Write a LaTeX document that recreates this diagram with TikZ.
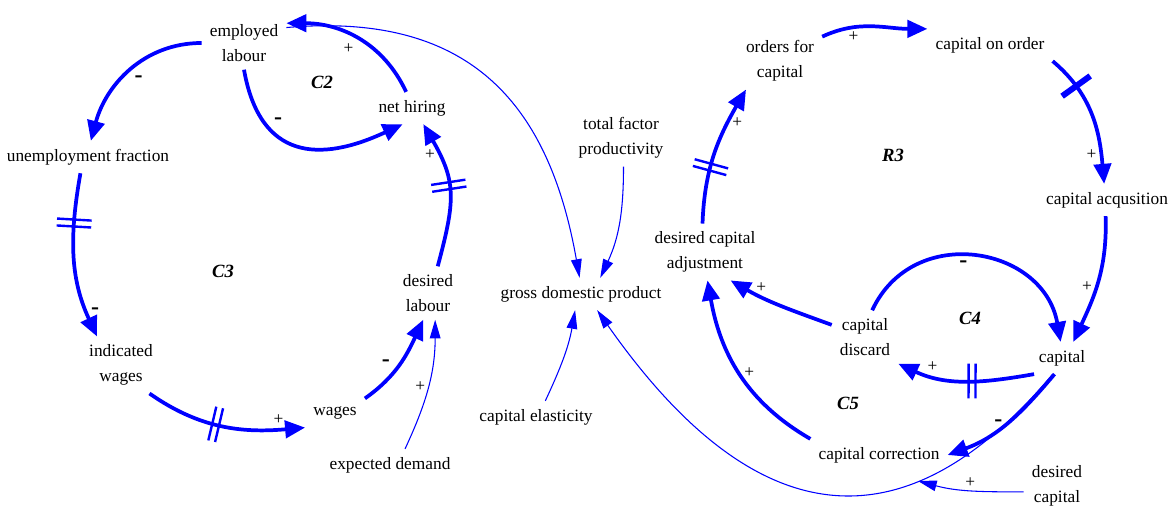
\documentclass[tikz,border=0pt]{standalone}
\usepackage{fontspec}
\setmainfont{Liberation Serif}
\usepackage{tikz}
\usetikzlibrary{arrows.meta, decorations.markings}
\definecolor{cldblue}{RGB}{0,0,255}

\begin{document}
\begin{tikzpicture}[
  x=0.75pt, y=-0.75pt,
  var/.style={inner sep=6pt, align=center, font=\fontsize{13}{18.5}\selectfont},
  loopname/.style={font=\fontsize{14}{16}\selectfont\bfseries\itshape},
  link/.style={cldblue, line width=2.8pt, -{Triangle[length=15pt,width=13pt]}},
  info/.style={cldblue, line width=0.8pt, -{Triangle[length=14pt,width=8pt]}},
  polplus/.style={font=\fontsize{13}{13}\selectfont, inner sep=2pt, text=black},
  polminus/.style={font=\fontsize{18}{18}\selectfont\bfseries, inner sep=2pt, text=black},
  dmark/.style={postaction={decorate, decoration={markings, mark=at position #1 with
    {\draw[cldblue, line width=1.8pt, -] (-2.6pt,-13pt) -- (-2.6pt,13pt) (2.6pt,-13pt) -- (2.6pt,13pt);}}}},
  smark/.style={postaction={decorate, decoration={markings, mark=at position #1 with
    {\draw[cldblue, line width=4.5pt, -] (0pt,-13pt) -- (0pt,13pt);}}}}
]
\useasboundingbox (0,0) rectangle (1173,510);

\node[var] (emp) at (244,43) {employed\\labour};
\node[var] (unemp) at (88,157) {unemployment fraction};
\node[var] (hire) at (412,108) {net hiring};
\node[var] (dlab) at (428,293) {desired\\labour};
\node[var] (indw) at (121,365) {indicated\\wages};
\node[var] (wage) at (335,413) {wages};
\node[var] (expd) at (390,465) {expected demand};
\node[var] (tfp) at (621,138) {total factor\\productivity};
\node[var] (gdp) at (581,294) {gross domestic product};
\node[var] (capel) at (536,417) {capital elasticity};
\node[var] (ofc) at (780,61) {orders for\\capital};
\node[var] (coo) at (990,45) {capital on order};
\node[var] (cacq) at (1107,200) {capital acqusition};
\node[var] (dca) at (705,252) {desired capital\\adjustment};
\node[var] (cdisc) at (865,337) {capital\\discard};
\node[var] (cap) at (1062,358) {capital};
\node[var] (ccorr) at (879,455) {capital correction};
\node[var] (dcap) at (1057,486) {desired\\capital};
\coordinate (ccin) at (918,481);

\node[loopname] (c2) at (322,82) {C2};
\node[loopname] (c3) at (223,271) {C3};
\node[loopname] (r3) at (893,155) {R3};
\node[loopname] (c4) at (970,318) {C4};
\node[loopname] (c5) at (848,403) {C5};

\draw[link] (emp.west) to[out=180,in=75] node[polminus, pos=0.5, below right] {-} (unemp.80);
\draw[link] (emp.south) to[out=-80,in=205,looseness=1.4] node[polminus, pos=0.3, above right] {-} (hire.240);
\draw[link] (hire.110) to[out=115,in=0] node[polplus, pos=0.5, below left] {+} (emp.25);
\draw[link, dmark=0.55] (dlab.70) to[out=75,in=-60,looseness=1.2] node[polplus, pos=0.8, left] {+} (hire.-55);
\draw[link, dmark=0.3] (unemp.-115) to[out=-100,in=115] node[polminus, pos=0.85, right] {-} (indw.130);
\draw[link, dmark=0.45] (indw.-45) to[out=-35,in=185] node[polplus, pos=0.85, above] {+} (wage.south west);
\draw[link] (wage.north east) to[out=35,in=-115] node[polminus, pos=0.4, above left] {-} (dlab.-100);
\draw[info] (expd.47) to[out=65,in=-90] node[polplus, pos=0.5, left] {+} (dlab.-75);

\draw[info] (emp.20) to[out=5,in=100,looseness=1.2] (gdp.95);
\draw[info] (tfp.-85) to[out=-90,in=65] (gdp.40);
\draw[info] (capel.60) to[out=65,in=-100] (gdp.-110);
\draw[info] (cap.-120) to[out=-130,in=-55,looseness=1.4] (gdp.-45);

\draw[link, dmark=0.4] (dca.95) to[out=88,in=-120] node[polplus, pos=0.75, right] {+} (ofc.-140);
\draw[link] (ofc.30) to[out=25,in=180] node[polplus, pos=0.3, below] {+} (coo.north west);
\draw[link, smark=0.25] (coo.south east) to[out=-40,in=95] node[polplus, pos=0.8, left] {+} (cacq.100);
\draw[link] (cacq.-95) to[out=-88,in=65] node[polplus, pos=0.55, left] {+} (cap.55);
\draw[link] (cdisc.75) to[out=65,in=100,looseness=1.3] node[polminus, pos=0.45, below] {-} (cap.95);
\draw[link, dmark=0.45] (cap.-150) to[out=190,in=-25] node[polplus, pos=0.75, above] {+} (cdisc.south east);
\draw[link] (cdisc.160) to[out=160,in=-30] node[polplus, pos=0.7, above] {+} (dca.-48);
\draw[link] (ccorr.north west) to[out=150,in=-80] node[polplus, pos=0.5, right] {+} (dca.-85);
\draw[link] (cap.-115) to[out=-130,in=20] node[polminus, pos=0.5, left] {-} (ccorr.east);
\draw[info] (dcap.190) to[out=180,in=-15] node[polplus, pos=0.5, above] {+} (ccin);
\end{tikzpicture}
\end{document}
